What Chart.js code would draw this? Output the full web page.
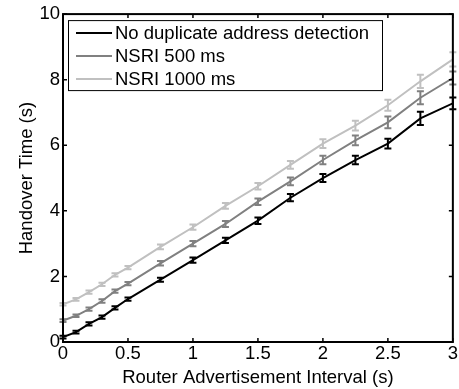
<!DOCTYPE html>
<html>
<head>
<meta charset="utf-8">
<script src="https://cdn.jsdelivr.net/npm/chart.js@4.4.0/dist/chart.umd.min.js"></script>
<style>
  html, body { margin: 0; padding: 0; background: #fff; }
  .chart-container { width: 459px; height: 389px; position: relative; }
</style>
</head>
<body>
<div class="chart-container"><canvas id="myChart" width="459" height="389"></canvas></div>
<script>
// Router advertisement interval (s)
const intervals = [0, 0.1, 0.2, 0.3, 0.4, 0.5, 0.75, 1, 1.25, 1.5, 1.75, 2, 2.25, 2.5, 2.75, 3];

const labels = ['No duplicate address detection', 'NSRI 500 ms', 'NSRI 1000 ms'];

// Handover time (s)
const noDad   = [0.15, 0.3, 0.55, 0.76, 1.04, 1.31, 1.9, 2.5, 3.1, 3.7, 4.4, 5.0, 5.55, 6.05, 6.82, 7.28];
const nsri500 = [0.65, 0.8, 1.0, 1.25, 1.55, 1.78, 2.4, 3.0, 3.6, 4.28, 4.9, 5.55, 6.15, 6.7, 7.45, 8.05];
const nsri1000 = [1.15, 1.3, 1.52, 1.76, 2.05, 2.27, 2.9, 3.5, 4.15, 4.75, 5.4, 6.05, 6.6, 7.22, 7.95, 8.62];

// half-width of error bars
const errNoDad   = [0.04, 0.04, 0.05, 0.05, 0.05, 0.05, 0.06, 0.08, 0.08, 0.1, 0.11, 0.12, 0.13, 0.15, 0.2, 0.18];
const err500     = [0.04, 0.04, 0.05, 0.05, 0.05, 0.05, 0.07, 0.08, 0.09, 0.1, 0.12, 0.13, 0.15, 0.18, 0.2, 0.2];
const err1000    = [0.04, 0.04, 0.05, 0.05, 0.05, 0.05, 0.07, 0.08, 0.09, 0.1, 0.12, 0.13, 0.15, 0.17, 0.2, 0.22];

const xTicks = [0, 0.5, 1, 1.5, 2, 2.5, 3];
const yTicks = [0, 2, 4, 6, 8, 10];

const colors = ['#000000', '#808080', '#c0c0c0'];
const series = [noDad, nsri500, nsri1000];
const errors = [errNoDad, err500, err1000];

const FONT = 'Liberation Sans, Arial, Helvetica, sans-serif';
const FSIZE = 18.5;

const ctx = document.getElementById('myChart').getContext('2d');

const data = {
    datasets: series.map((vals, i) => ({
        label: labels[i],
        data: intervals.map((x, j) => ({ x: x, y: vals[j] })),
        err: errors[i],
        borderColor: colors[i],
        backgroundColor: colors[i],
        borderWidth: 2,
        pointRadius: 0,
        tension: 0,
    })),
};

// error bars, box frame, inward ticks and legend box like the matlab figure
const matlabStyle = {
    id: 'matlabStyle',
    afterDatasetsDraw(chart) {
        const c = chart.ctx;
        const xs = chart.scales.x, ys = chart.scales.y;
        c.save();
        chart.data.datasets.forEach((ds) => {
            c.strokeStyle = ds.borderColor;
            c.lineWidth = 2;
            ds.data.forEach((p, j) => {
                const px = xs.getPixelForValue(p.x);
                const top = ys.getPixelForValue(p.y + ds.err[j]);
                const bot = ys.getPixelForValue(p.y - ds.err[j]);
                c.beginPath();
                c.moveTo(px, top); c.lineTo(px, bot);
                c.moveTo(px - 3.5, top); c.lineTo(px + 3.5, top);
                c.moveTo(px - 3.5, bot); c.lineTo(px + 3.5, bot);
                c.stroke();
            });
        });
        c.restore();
    },
    afterDraw(chart) {
        const c = chart.ctx;
        const a = chart.chartArea;
        const xs = chart.scales.x, ys = chart.scales.y;
        c.save();
        c.strokeStyle = '#000';
        c.lineWidth = 1.5;
        c.beginPath();
        xTicks.forEach(v => {
            const px = xs.getPixelForValue(v);
            c.moveTo(px, a.bottom); c.lineTo(px, a.bottom - 4);
            c.moveTo(px, a.top); c.lineTo(px, a.top + 4);
        });
        yTicks.forEach(v => {
            const py = ys.getPixelForValue(v);
            c.moveTo(a.left, py); c.lineTo(a.left + 4, py);
            c.moveTo(a.right, py); c.lineTo(a.right - 4, py);
        });
        c.stroke();

        // legend
        const lx = a.left + 5, ly = a.top + 6, lw = 314, lh = 70;
        c.fillStyle = '#fff';
        c.fillRect(lx, ly, lw, lh);
        c.lineWidth = 1;
        c.strokeStyle = '#000';
        c.strokeRect(lx + 0.5, ly + 0.5, lw, lh);
        c.font = FSIZE + 'px ' + FONT;
        c.textBaseline = 'middle';
        chart.data.datasets.forEach((ds, i) => {
            const yy = ly + 13 + i * 23;
            c.strokeStyle = ds.borderColor;
            c.lineWidth = 2;
            c.beginPath();
            c.moveTo(lx + 8, yy); c.lineTo(lx + 44, yy);
            c.stroke();
            c.fillStyle = '#000';
            c.fillText(ds.label, lx + 47, yy + 1);
        });

        // thick box
        c.strokeStyle = '#000';
        c.lineWidth = 2;
        c.strokeRect(a.left, a.top, a.right - a.left, a.bottom - a.top);
        c.restore();
    }
};

const options = {
    responsive: false,
    animation: false,
    layout: { padding: { top: 12, right: 4, left: 0, bottom: 0 } },
    plugins: {
        legend: { display: false },
        tooltip: { enabled: false },
    },
    scales: {
        x: {
            type: 'linear',
            min: 0,
            max: 3,
            grid: { display: false, drawTicks: false },
            border: { display: false },
            afterBuildTicks: (s) => { s.ticks = xTicks.map(v => ({ value: v })); },
            afterFit: (s) => { s.height = 47; },
            ticks: {
                color: '#000',
                padding: 1,
                maxRotation: 0,
                font: { family: FONT, size: FSIZE },
                callback: (v) => String(v),
            },
            title: {
                display: true,
                text: 'Router Advertisement Interval (s)',
                color: '#000',
                font: { family: FONT, size: FSIZE },
                padding: { top: 0, bottom: 0 },
            },
        },
        y: {
            type: 'linear',
            min: 0,
            max: 10,
            grid: { display: false, drawTicks: false },
            border: { display: false },
            afterBuildTicks: (s) => { s.ticks = yTicks.map(v => ({ value: v })); },
            afterFit: (s) => { s.width = 63; },
            ticks: {
                color: '#000',
                padding: 3,
                font: { family: FONT, size: FSIZE },
                callback: (v) => String(v),
            },
            title: {
                display: true,
                text: 'Handover Time (s)',
                color: '#000',
                font: { family: FONT, size: FSIZE },
                padding: { top: 16, bottom: 0 },
            },
        },
    },
};

const myChart = new Chart(ctx, {
    type: 'line',
    data: data,
    options: options,
    plugins: [matlabStyle],
});
</script>
</body>
</html>
